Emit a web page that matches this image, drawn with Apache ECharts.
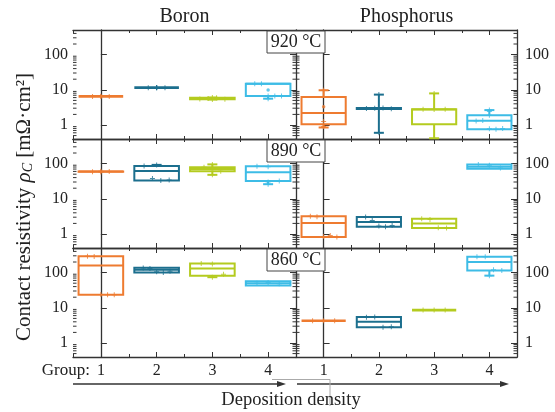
<!DOCTYPE html>
<html>
<head>
<meta charset="utf-8">
<script src="https://cdn.jsdelivr.net/npm/echarts@6/dist/echarts.min.js"></script>
<style>
  html, body { margin: 0; padding: 0; background: #fff; }
  #chart { width: 555px; height: 412px; }
</style>
</head>
<body>
<div id="chart"></div>
<script>
// Contact resistivity per deposition-density group, box statistics on a log scale.
const groups = ['1', '2', '3', '4'];
const elements = ['Boron', 'Phosphorus'];
const temps = ['920 °C', '890 °C', '860 °C'];
const groupColors = ['#EE7B30', '#1C6F8E', '#B4CB1F', '#3DBCE6'];

// [min, Q1, median, Q3, max] for groups 1..4
const boron920 = [[6.5, 6.5, 6.5, 6.5, 6.5], [11.5, 11.5, 11.5, 11.5, 11.5], [5.3, 5.35, 5.6, 5.95, 6.0], [5.6, 6.7, 14.8, 14.8, 14.8]];
const phos920 = [[0.85, 1.05, 2.2, 6.2, 9.7], [0.6, 2.85, 2.95, 3.05, 7.3], [0.42, 1.05, 2.75, 2.8, 7.9], [0.76, 0.76, 1.32, 1.88, 2.65]];
const boron890 = [[59, 59, 59.5, 60, 60], [33, 33, 62, 86, 92], [48, 61, 70, 79, 95], [26, 32, 57, 84, 84]];
const phos890 = [[0.82, 0.82, 2.04, 3.2, 3.2], [1.6, 1.6, 2.2, 3.05, 3.05], [1.48, 1.48, 2.0, 2.7, 2.7], [71, 71, 82, 95, 95]];
const boron860 = [[23.3, 23.3, 158, 290, 290], [100, 100, 120, 138, 138], [74, 82, 130, 180, 180], [43, 43, 50, 57, 57]];
const phos860 = [[4.3, 4.3, 4.3, 4.3, 4.3], [2.8, 2.8, 4.0, 5.5, 5.5], [8.6, 8.6, 8.6, 8.6, 8.6], [82, 114, 200, 283, 283]];

// individual measurements per group
const boron920Pts = [[6.4, 6.5, 6.5, 6.6], [11.4, 11.5, 11.6, 11.5, 11.4, 11.6], [5.3, 5.5, 5.7, 5.9, 6.0, 5.4], [14.8, 14.8, 6.7, 6.7, 6.7, 5.6]];
const phos920Pts = [[9.7, 1.25, 0.9], [2.95, 3.0, 3.05, 2.9, 7.3, 0.6], [2.8, 2.75, 2.8, 7.9], [2.65, 2.4, 1.9, 1.3, 1.35, 0.78, 0.76, 0.8]];
const boron890Pts = [[58, 59, 60, 61], [92, 86, 38, 33, 34], [95, 79, 61, 48], [84, 82, 32, 30, 26]];
const phos890Pts = [[3.2, 3.1, 0.85, 0.9, 0.82], [3.05, 2.4, 1.7, 1.6, 1.75], [2.7, 2.6, 1.5, 1.48], [95, 90, 75]];
const boron860Pts = [[290, 285, 24, 23.3, 23.5], [135, 130, 105, 100, 110], [180, 175, 90, 74], [50, 52, 48]];
const phos860Pts = [[4.3, 4.3, 4.3], [5.4, 5.5, 2.8, 2.9], [8.6, 8.6, 8.6], [283, 280, 120, 115, 82]];

// group means (null where hidden by the box lines)
const boron920Mean = [null, null, null, 9.8];
const phos920Mean = [3.3, null, null, null];
const boron890Mean = [null, null, 70, null];
const phos890Mean = [null, null, null, null];
const boron860Mean = [null, null, null, null];
const phos860Mean = [null, null, null, null];

const yMin = 0.4, yMax = 500;

const panels = [
  [boron920, boron920Pts, boron920Mean], [phos920, phos920Pts, phos920Mean],
  [boron890, boron890Pts, boron890Mean], [phos890, phos890Pts, phos890Mean],
  [boron860, boron860Pts, boron860Mean], [phos860, phos860Pts, phos860Mean]
];

const FONT = 'Liberation Serif';
const INK = '#222';
const FRAME = '#333';
const LEFT = 73, MID = 296, RIGHT = 517;
const rowTops = [30, 139, 248];
const rowH = 109;

// minor log ticks 2..9 in every decade inside the axis range
const minorTicks = [];
for (let e = -1; e <= 2; e++) {
  for (let m = 2; m <= 9; m++) {
    const v = m * Math.pow(10, e);
    if (v > yMin && v < yMax) minorTicks.push([0, v]);
  }
}

const grid = [], xAxis = [], yAxis = [], series = [];
const isPow10 = v => Math.abs(Math.log10(v) - Math.round(Math.log10(v))) < 1e-6;
const tickStyle = { color: FRAME, width: 1 };

panels.forEach((panel, g) => {
  const r = Math.floor(g / 2), c = g % 2;
  grid.push({
    left: c ? MID : LEFT, top: rowTops[r],
    width: c ? RIGHT - MID : MID - LEFT, height: rowH
  });
  // data axis
  xAxis.push({ gridIndex: g, type: 'value', min: -0.5, max: 3.5, show: false });
  // category ticks: major at groups, minor between groups
  ['bottom', 'top'].forEach(pos => {
    xAxis.push({
      gridIndex: g, type: 'category', data: groups, position: pos,
      axisLine: { show: true, lineStyle: { color: FRAME, width: 1.3 } },
      axisTick: { show: true, inside: true, alignWithLabel: true, length: 5, lineStyle: tickStyle },
      axisLabel: { show: pos === 'bottom' && r === 2, margin: 6, color: INK, fontFamily: FONT, fontSize: 16 },
      splitLine: { show: false }
    });
    xAxis.push({
      gridIndex: g, type: 'category', data: groups, position: pos,
      axisLine: { show: false },
      axisTick: { show: true, inside: true, length: 3, lineStyle: tickStyle },
      axisLabel: { show: false },
      splitLine: { show: false }
    });
  });
  ['left', 'right'].forEach(pos => {
    const labelled = (pos === 'left' && c === 0) || (pos === 'right' && c === 1);
    yAxis.push({
      gridIndex: g, type: 'log', logBase: 10, min: yMin, max: yMax, position: pos,
      axisLine: { show: true, lineStyle: { color: FRAME, width: 1.3 } },
      axisTick: { show: true, inside: true, length: 6, lineStyle: tickStyle },
      axisLabel: {
        show: labelled, margin: pos === 'left' ? 5 : 8, color: INK, fontFamily: FONT, fontSize: 16,
        showMinLabel: false, showMaxLabel: false,
        formatter: v => (isPow10(v) ? String(Math.round(v)) : '')
      },
      splitLine: { show: false }
    });
  });

  const xi = g * 5, yi = g * 2;
  const [stats, pts, means] = panel;

  // minor log ticks on both vertical edges
  series.push({
    type: 'custom', xAxisIndex: xi, yAxisIndex: yi, silent: true, clip: false,
    encode: { x: 0, y: 1 },
    data: minorTicks,
    renderItem: (params, api) => {
      const cs = params.coordSys;
      const y = api.coord([0, api.value(1)])[1];
      const st = { stroke: FRAME, lineWidth: 1 };
      return {
        type: 'group', children: [
          { type: 'line', shape: { x1: cs.x, y1: y, x2: cs.x + 3.5, y2: y }, style: st },
          { type: 'line', shape: { x1: cs.x + cs.width - 3.5, y1: y, x2: cs.x + cs.width, y2: y }, style: st }
        ]
      };
    }
  });

  // boxes
  series.push({
    type: 'custom', xAxisIndex: xi, yAxisIndex: yi, silent: true,
    encode: { x: 0, y: [1, 2, 3, 4, 5] },
    data: stats.map((s, i) => [i, ...s]),
    renderItem: (params, api) => {
      const x = api.value(0);
      const color = groupColors[x];
      const [mn, q1, md, q3, mx] = [1, 2, 3, 4, 5].map(k => api.value(k));
      const px = api.coord([x, q1])[0];
      const bw = api.coord([x + 0.4, q1])[0] - api.coord([x - 0.4, q1])[0];
      const Y = v => api.coord([x, v])[1];
      const st = { stroke: color, lineWidth: 2, fill: 'none' };
      const ch = [];
      const cap = 5;
      if (mx > q3) {
        ch.push({ type: 'line', shape: { x1: px, y1: Y(q3), x2: px, y2: Y(mx) }, style: st });
        ch.push({ type: 'line', shape: { x1: px - cap, y1: Y(mx), x2: px + cap, y2: Y(mx) }, style: st });
      }
      if (mn < q1) {
        ch.push({ type: 'line', shape: { x1: px, y1: Y(q1), x2: px, y2: Y(mn) }, style: st });
        ch.push({ type: 'line', shape: { x1: px - cap, y1: Y(mn), x2: px + cap, y2: Y(mn) }, style: st });
      }
      if (q3 > q1) {
        ch.push({ type: 'rect', shape: { x: px - bw / 2, y: Y(q3), width: bw, height: Y(q1) - Y(q3) }, style: st });
      }
      ch.push({ type: 'line', shape: { x1: px - bw / 2, y1: Y(md), x2: px + bw / 2, y2: Y(md) }, style: Object.assign({}, st, { lineWidth: q3 > q1 ? 2 : 2.6 }) });
      return { type: 'group', children: ch };
    }
  });

  // individual measurements: inside the box they spread across its width,
  // beyond the box they sit on the whisker
  const ptData = [];
  pts.forEach((list, gi) => {
    const [, q1, , q3] = stats[gi];
    const inside = list.filter(v => v >= q1 && v <= q3);
    let k = 0;
    list.forEach(v => {
      let off = 0;
      if (v >= q1 && v <= q3) {
        off = -0.3 + 0.6 * (k + 0.5) / inside.length;
        k++;
      }
      ptData.push({ value: [gi + off, v], itemStyle: { color: groupColors[gi] } });
    });
  });
  series.push({
    type: 'scatter', xAxisIndex: xi, yAxisIndex: yi, silent: true,
    symbol: 'path://M2,0H3V2H5V3H3V5H2V3H0V2H2Z', symbolSize: 5,
    data: ptData
  });

  // means
  const meanData = [];
  means.forEach((m, gi) => {
    if (m !== null) meanData.push({ value: [gi, m], itemStyle: { color: groupColors[gi] } });
  });
  series.push({
    type: 'scatter', xAxisIndex: xi, yAxisIndex: yi, silent: true,
    symbol: 'circle', symbolSize: 3.5, data: meanData
  });
});

// annotations: panel titles, temperature tags, axis title, arrows
const graphic = [];
elements.forEach((name, c) => {
  graphic.push({
    type: 'text', x: c ? (MID + RIGHT) / 2 : (LEFT + MID) / 2, y: 17,
    style: { text: name, fontFamily: FONT, fontSize: 20, fill: INK, align: 'center', verticalAlign: 'middle' }
  });
});
temps.forEach((t, r) => {
  graphic.push({
    type: 'rect', shape: { x: MID - 29, y: rowTops[r] + 1, width: 58, height: 22 },
    style: { fill: '#fff', stroke: '#444', lineWidth: 1 }, z: 10
  });
  graphic.push({
    type: 'text', x: MID, y: rowTops[r] + 12.5, z: 11,
    style: { text: t, fontFamily: FONT, fontSize: 18, fill: INK, align: 'center', verticalAlign: 'middle' }
  });
});
graphic.push({
  type: 'text', x: 24, y: 207, rotation: Math.PI / 2,
  style: {
    text: 'Contact resistivity {i|ρ}{s|C} [mΩ·cm²]',
    fontFamily: FONT, fontSize: 21, fill: INK, align: 'center', verticalAlign: 'middle',
    rich: {
      i: { fontFamily: FONT, fontSize: 21, fontStyle: 'italic', fill: INK },
      s: { fontFamily: FONT, fontSize: 14, fontStyle: 'italic', fill: INK, padding: [9, 0, 0, 0] }
    }
  }
});
graphic.push({
  type: 'text', x: 90, y: 371,
  style: { text: 'Group:', fontFamily: FONT, fontSize: 17, fill: INK, align: 'right', verticalAlign: 'middle' }
});
const arrowY = 384;
[[LEFT, 286], [297, 509]].forEach(([a, b]) => {
  graphic.push({ type: 'line', shape: { x1: a, y1: arrowY, x2: b - 6, y2: arrowY }, style: { stroke: FRAME, lineWidth: 1.3 } });
  graphic.push({ type: 'polygon', shape: { points: [[b, arrowY], [b - 9, arrowY - 3], [b - 9, arrowY + 3]] }, style: { fill: FRAME } });
});
graphic.push({
  type: 'polyline', shape: { points: [[272, 379.5], [330, 379.5], [330, 406]] },
  style: { stroke: '#aaa', lineWidth: 1, fill: 'none' }
});
graphic.push({
  type: 'text', x: 291, y: 400,
  style: { text: 'Deposition density', fontFamily: FONT, fontSize: 18.5, fill: INK, align: 'center', verticalAlign: 'middle' }
});

const chart = echarts.init(document.getElementById('chart'), null, { renderer: 'canvas' });
chart.setOption({
  backgroundColor: '#fff',
  animation: false,
  textStyle: { fontFamily: FONT },
  grid, xAxis, yAxis, series, graphic
});
</script>
</body>
</html>
